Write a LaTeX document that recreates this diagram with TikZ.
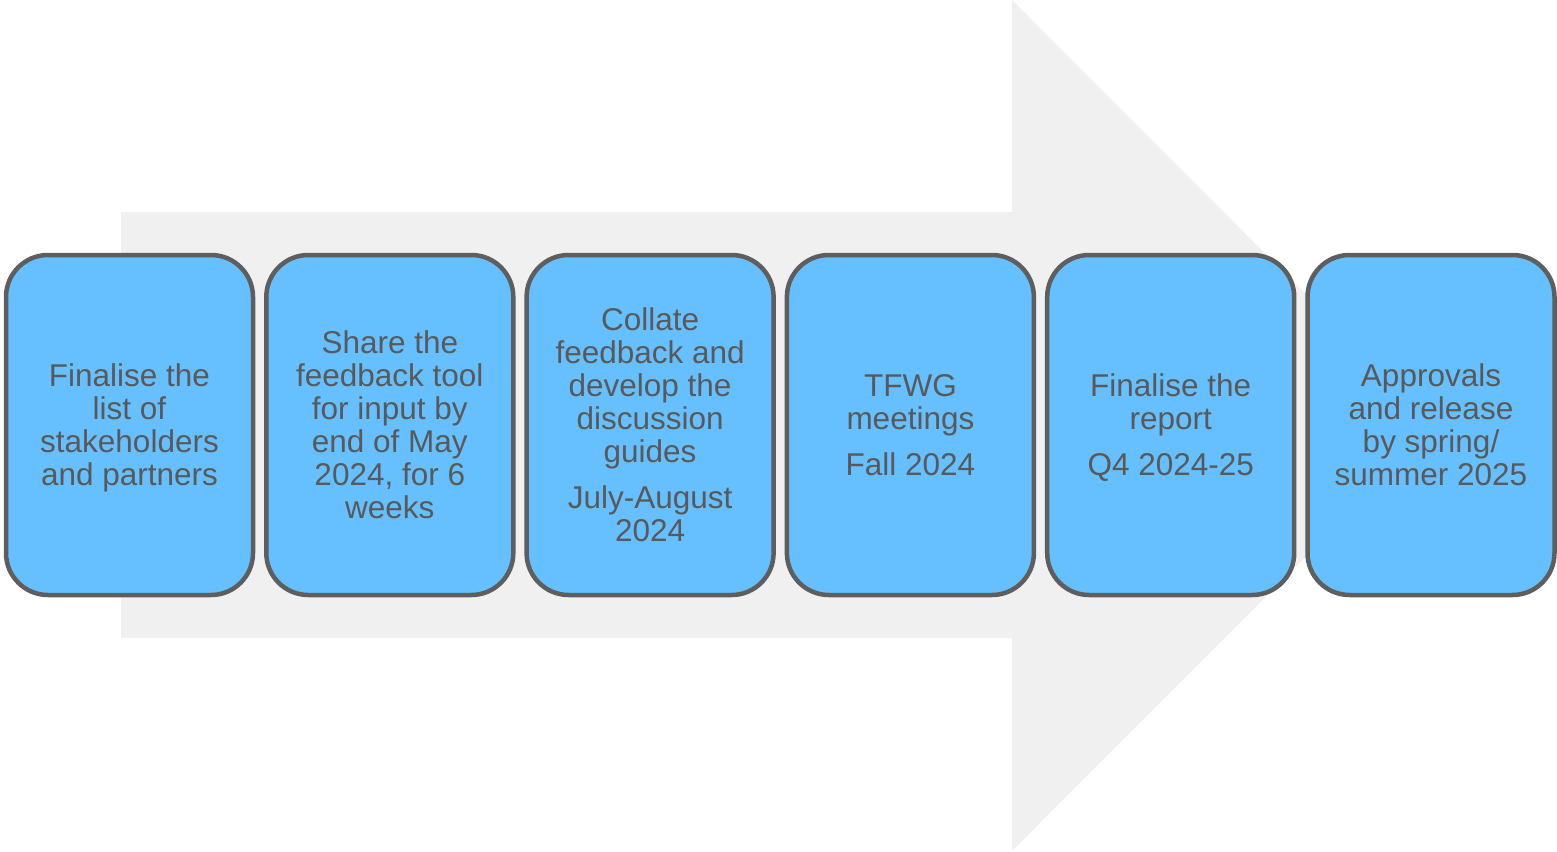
\documentclass[tikz,border=0pt]{standalone}
\usepackage{fontspec}
\setmainfont{Liberation Sans}
\definecolor{arrowgrey}{HTML}{F0F0F0}
\definecolor{boxblue}{HTML}{66BFFF}
\definecolor{boxline}{HTML}{5E5E5E}
\definecolor{txtgrey}{HTML}{595959}
\tikzset{
  stagebox/.style={draw=boxline, fill=boxblue, line width=4.5pt, rounded corners=42pt,
    minimum width=247pt, minimum height=340pt, align=center, inner sep=0pt,
    text depth=0pt,
    text=txtgrey, font=\fontsize{31.5}{33}\selectfont},
  bgarrow/.style={fill=arrowgrey}
}
\begin{document}
\begin{tikzpicture}[x=1pt,y=-1pt]
\useasboundingbox (0,0) rectangle (1557,851);
\fill[bgarrow] (121,212) -- (1012,212) -- (1012,0) -- (1437,425.5) -- (1012,851) -- (1012,638) -- (121,638) -- cycle;
\node[stagebox] (s1) at (129.5,425) {Finalise the\\list of\\stakeholders\\and partners};
\node[stagebox] (s2) at (389.8,425) {Share the\\feedback tool\\for input by\\end of May\\2024, for 6\\weeks};
\node[stagebox] (s3) at (650.1,425) {Collate\\feedback and\\develop the\\discussion\\guides\\[13pt]July-August\\2024};
\node[stagebox] (s4) at (910.4,425) {TFWG\\meetings\\[13pt]Fall 2024};
\node[stagebox] (s5) at (1170.7,425) {Finalise the\\report\\[13pt]Q4 2024-25};
\node[stagebox] (s6) at (1431,425) {Approvals\\and release\\by spring/\\summer 2025};
\end{tikzpicture}
\end{document}
